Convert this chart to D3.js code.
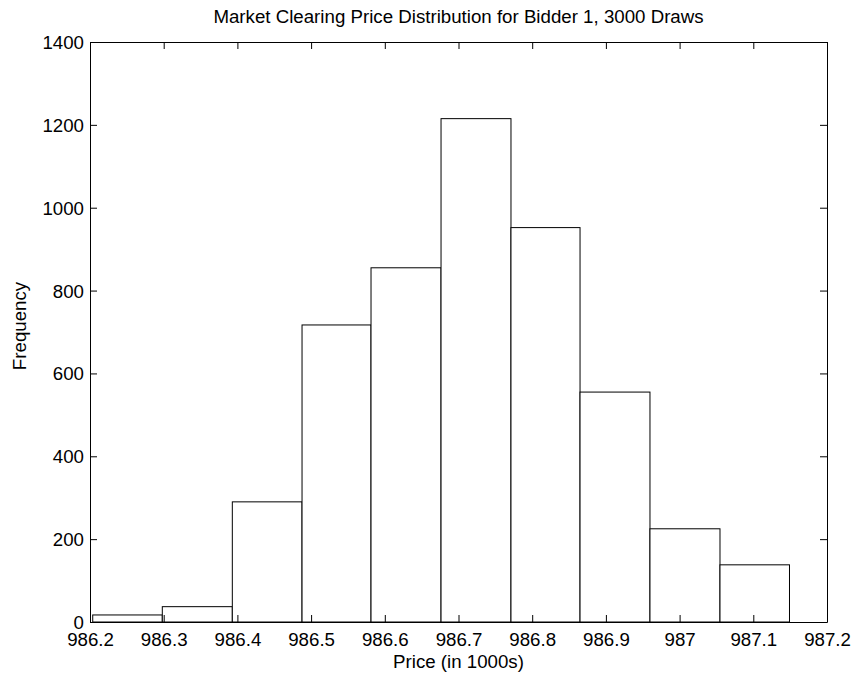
<!DOCTYPE html>
<html><head><meta charset="utf-8">
<script src="https://cdn.jsdelivr.net/npm/d3@7"></script>
<style>body{margin:0;background:#fff;} text{font-family:"Liberation Sans",Arial,sans-serif;}</style>
</head><body><svg id="c" width="857" height="679"></svg>
<script>
const binEdges = [986.2037, 986.2981, 986.3931, 986.4877, 986.5813, 986.6763, 986.7712, 986.8649, 986.9598, 987.0548, 987.1491];
const counts = [17, 37, 290, 717, 855, 1215, 952, 555, 225, 138];
const xTicks = [986.2, 986.3, 986.4, 986.5, 986.6, 986.7, 986.8, 986.9, 987, 987.1, 987.2];
const yTicks = [0, 200, 400, 600, 800, 1000, 1200, 1400];
const title = "Market Clearing Price Distribution for Bidder 1, 3000 Draws";
const xLabel = "Price (in 1000s)";
const yLabel = "Frequency";

const svg = d3.select("#c");
const L = 90, R = 827, T = 42, B = 622;
const x = d3.scaleLinear().domain([986.2, 987.2]).range([L, R]);
const y = d3.scaleLinear().domain([0, 1400]).range([B, T]);
const fs = 18.7;

const bars = counts.map((c, i) => ({x0: binEdges[i], x1: binEdges[i + 1], c}));
svg.append("g").selectAll("rect").data(bars).join("rect")
  .attr("x", d => x(d.x0)).attr("width", d => x(d.x1) - x(d.x0))
  .attr("y", d => y(d.c)).attr("height", d => y(0) - y(d.c))
  .attr("fill", "#fff").attr("stroke", "#000").attr("stroke-width", 1);

const tl = 7;
const axB = svg.append("g").attr("transform", `translate(0,${B})`)
  .call(d3.axisBottom(x).tickValues(xTicks).tickFormat(d3.format("")).tickSizeInner(-tl).tickSizeOuter(0).tickPadding(10));
const axT = svg.append("g").attr("transform", `translate(0,${T})`)
  .call(d3.axisTop(x).tickValues(xTicks).tickFormat("").tickSizeInner(-tl).tickSizeOuter(0));
const axL = svg.append("g").attr("transform", `translate(${L},0)`)
  .call(d3.axisLeft(y).tickValues(yTicks).tickFormat(d3.format("d")).tickSizeInner(-tl).tickSizeOuter(0).tickPadding(6));
const axR = svg.append("g").attr("transform", `translate(${R},0)`)
  .call(d3.axisRight(y).tickValues(yTicks).tickFormat("").tickSizeInner(-tl).tickSizeOuter(0));
[axB, axT, axL, axR].forEach(a => {
  a.selectAll("path").attr("stroke", "#000");
  a.selectAll("line").attr("stroke", "#000");
  a.selectAll("text").attr("font-size", fs).attr("fill", "#000").style("font-family", '"Liberation Sans",Arial,sans-serif');
});
axB.selectAll("text").attr("dy", null).attr("y", 24);
axL.selectAll("text").attr("dy", "0.35em");

svg.append("text").attr("x", (L + R) / 2).attr("y", 23).attr("text-anchor", "middle")
  .attr("font-size", fs).text(title);
svg.append("text").attr("x", (L + R) / 2).attr("y", 668).attr("text-anchor", "middle")
  .attr("font-size", fs).text(xLabel);
svg.append("text").attr("transform", `translate(26,326) rotate(-90)`).attr("text-anchor", "middle")
  .attr("font-size", fs).text(yLabel);
</script></body></html>
